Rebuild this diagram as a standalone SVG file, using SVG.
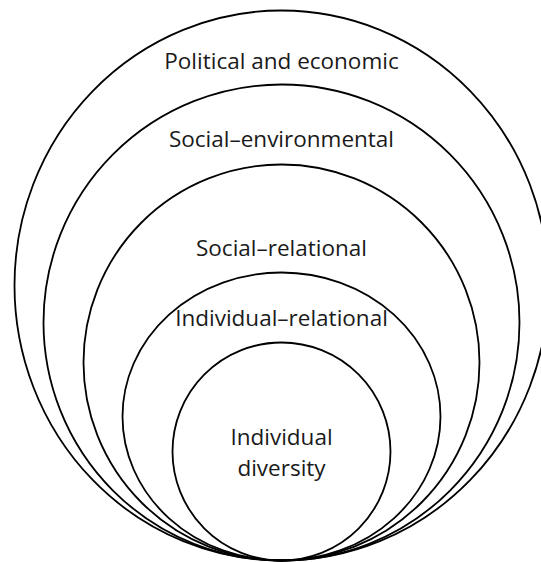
<svg xmlns="http://www.w3.org/2000/svg" width="541" height="562" viewBox="0 0 541 562">
<style>
.ring{fill:none;stroke:#000;stroke-width:1.8}
.lbl{font-family:"Open Sans","Noto Sans",sans-serif;font-size:22.5px;fill:#1a1a1a;text-anchor:middle}
</style>
<rect width="541" height="562" fill="#fff"/>
<g id="political-economic">
<ellipse class="ring" cx="281.5" cy="285.5" rx="267" ry="275"/>
<text class="lbl" x="281.5" y="69">Political and economic</text>
</g>
<g id="social-environmental">
<circle class="ring" cx="281.5" cy="322.5" r="238"/>
<text class="lbl" x="281.5" y="147">Social–environmental</text>
</g>
<g id="social-relational">
<circle class="ring" cx="281.5" cy="362.5" r="198"/>
<text class="lbl" x="281.5" y="256">Social–relational</text>
</g>
<g id="individual-relational">
<ellipse class="ring" cx="281.5" cy="416.5" rx="159" ry="144"/>
<text class="lbl" x="281.5" y="326">Individual–relational</text>
</g>
<g id="individual-diversity">
<circle class="ring" cx="281.5" cy="451.5" r="109"/>
<text class="lbl" x="281.5" y="445">Individual</text>
<text class="lbl" x="281.5" y="476">diversity</text>
</g>
<g id="connectors"></g>
</svg>
